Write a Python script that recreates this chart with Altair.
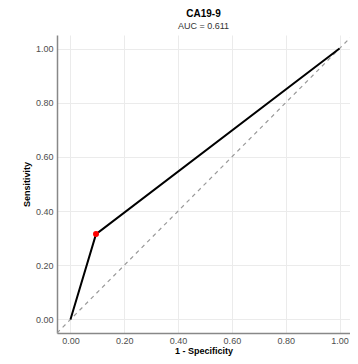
import altair as alt
import pandas as pd

# ROC curve points (1 - specificity, sensitivity)
fpr = [0.0, 0.095, 1.0]
tpr = [0.0, 0.315, 1.0]
# optimal cut-off point
cut_fpr = [0.095]
cut_tpr = [0.315]
# reference diagonal
diag = [-0.05, 1.05]
tick_vals = [0.0, 0.1, 0.2, 0.3, 0.4, 0.5, 0.6, 0.7, 0.8, 0.9, 1.0]

roc = pd.DataFrame({"fpr": fpr, "tpr": tpr})
pt = pd.DataFrame({"fpr": cut_fpr, "tpr": cut_tpr})
dg = pd.DataFrame({"x": diag, "y": diag})

FONT = "Liberation Sans"
label_expr = "abs(round(datum.value*10)) % 2 == 0 ? format(datum.value, '.2f') : ''"

xscale = alt.Scale(domain=[-0.05, 1.039], nice=False, zero=False)
yscale = alt.Scale(domain=[-0.05, 1.05], nice=False, zero=False)

xaxis = alt.Axis(values=tick_vals, labelExpr=label_expr, title="1 - Specificity",
                 ticks=False, labelPadding=3, titlePadding=1)
yaxis = alt.Axis(values=tick_vals, labelExpr=label_expr, title="Sensitivity",
                 ticks=False, labelPadding=4, titlePadding=4)

diag_layer = alt.Chart(dg).mark_line(
    color="#999999", strokeDash=[4, 4], strokeWidth=1.2, clip=True
).encode(
    x=alt.X("x:Q", scale=xscale, axis=xaxis),
    y=alt.Y("y:Q", scale=yscale, axis=yaxis),
)

roc_layer = alt.Chart(roc).mark_line(color="black", strokeWidth=2).encode(
    x=alt.X("fpr:Q", scale=xscale),
    y=alt.Y("tpr:Q", scale=yscale),
    order=alt.Order("fpr:Q"),
)

pt_layer = alt.Chart(pt).mark_circle(color="red", size=36, opacity=1).encode(
    x=alt.X("fpr:Q", scale=xscale),
    y=alt.Y("tpr:Q", scale=yscale),
)

chart = alt.layer(diag_layer, roc_layer, pt_layer).properties(
    width=293,
    height=298,
    title=alt.TitleParams(
        text="CA19-9", subtitle="AUC = 0.611", anchor="middle",
        font=FONT, fontSize=10, fontWeight="bold", color="black",
        subtitleFont=FONT, subtitleFontSize=9, subtitleColor="#333333",
        subtitlePadding=3, offset=4,
    ),
    autosize=alt.AutoSizeParams(type="none"),
    padding={"left": 49, "top": 27, "right": 0, "bottom": 23},
    background="white",
).configure_view(
    stroke=None
).configure_axis(
    labelFont=FONT, labelFontSize=9, labelColor="#4D4D4D",
    titleFont=FONT, titleFontSize=9, titleFontWeight="bold", titleColor="black",
    gridColor="#EBEBEB", gridWidth=1,
    domainColor="#888888", domainWidth=1.5,
)

chart.save("out.html", embed_options={"renderer": "svg", "actions": False})
